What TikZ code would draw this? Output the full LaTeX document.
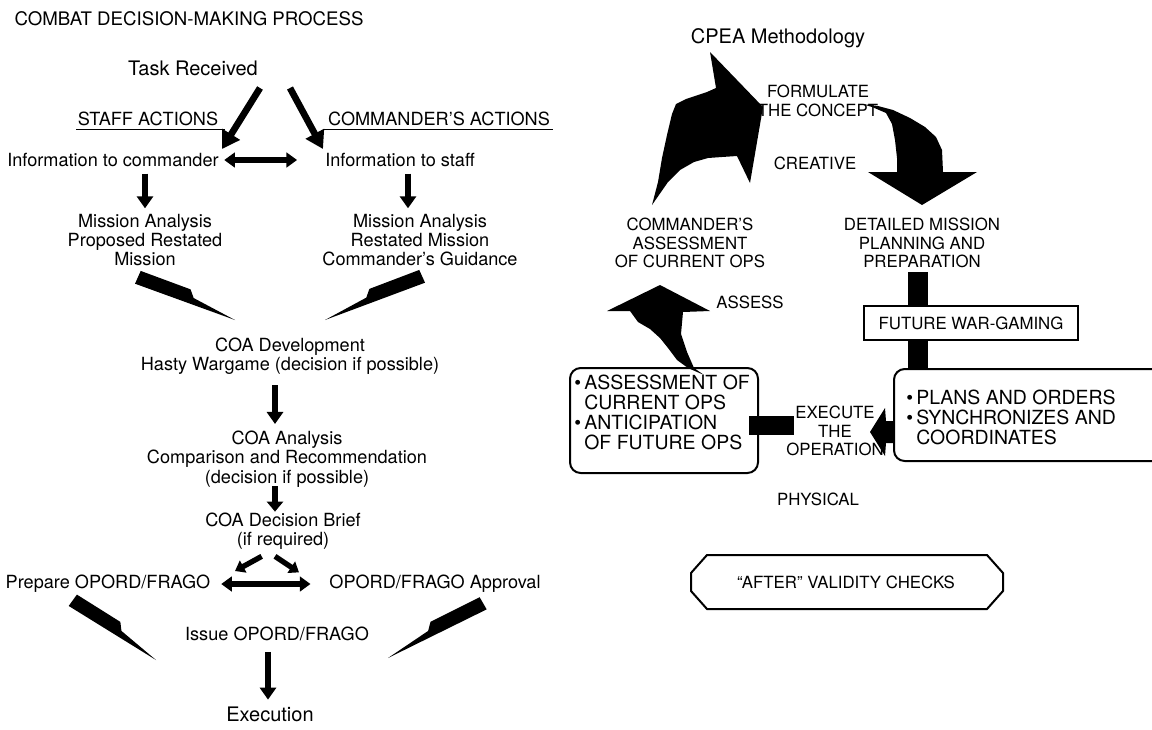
\documentclass[tikz,border=0pt]{standalone}
\usepackage{fontspec}
\setmainfont{TeX Gyre Heros}
\usetikzlibrary{arrows.meta,calc}

\newcommand\bodyfont{\fontsize{13.6}{14.5}\selectfont}
\newcommand\capsfont{\fontsize{12.6}{14}\selectfont}
\newcommand\boxfont{\fontsize{14.6}{13.6}\selectfont}
\newcommand\headfont{\fontsize{15}{17}\selectfont}

% tapering "lightning" arrow from #1 (tail) to #2 (tip); #3 = side of the notch
\newcommand\boltarrow[3]{%
  \fill ($(#1)!5.5pt!-#3:(#2)$) -- (#2)
        -- ($(#1)!0.56!(#2)!2.5pt!#3:(#2)$)
        -- ($(#1)!0.50!(#2)!7.5pt!#3:(#2)$)
        -- ($(#1)!5pt!#3:(#2)$) -- cycle;}

\begin{document}
\begin{tikzpicture}[x=0.75pt,y=-0.75pt,
  txt/.style={font=\bodyfont, align=center, inner sep=0pt},
  caps/.style={font=\capsfont, align=center, inner sep=0pt},
  head/.style={font=\headfont, inner sep=0pt},
  fat/.style={line width=4.5pt, -{Triangle[length=9pt,width=12pt]}},
  bigfat/.style={line width=5pt, -{Triangle[length=13pt,width=15pt]}},
  small/.style={line width=4pt, -{Triangle[length=7pt,width=10pt]}},
  dbl/.style={line width=4.5pt, {Triangle[length=8pt,width=11pt]}-{Triangle[length=8pt,width=11pt]}},
  uline/.style={line width=1.1pt},
  framebox/.style={draw, line width=1.5pt, rounded corners=8pt},
]
\useasboundingbox (0,0) rectangle (1152,729);
\clip (0,0) rectangle (1152,729);

% ---------------- combat decision-making process ----------------
\node[head, font=\fontsize{14}{16}\selectfont] (title) at (189,19) {COMBAT DECISION-MAKING PROCESS};
\node[head] (task) at (193,68) {Task Received};

\node[txt] (staffact) at (148,119) {STAFF ACTIONS};
\node[txt] (cmdact) at (439,119) {COMMANDER'S ACTIONS};
\draw[uline] ([xshift=-1pt,yshift=-3pt]staffact.base west) -- ([xshift=5pt,yshift=-3pt]staffact.base east);
\draw[uline] ([xshift=-3pt,yshift=-3pt]cmdact.base west) -- ([xshift=2pt,yshift=-3pt]cmdact.base east);

\node[txt] (infocmd) at (113,160) {Information to commander};
\node[txt] (infostaff) at (400,160) {Information to staff};

\node[txt] (ma1) at (145,240) {Mission Analysis\\Proposed Restated\\Mission};
\node[txt] (ma2) at (420,240) {Mission Analysis\\Restated Mission\\Commander's Guidance};

\node[txt] (coadev) at (290,356) {COA Development\\Hasty Wargame (decision if possible)};
\node[txt] (coaana) at (287,459) {COA Analysis\\Comparison and Recommendation\\(decision if possible)};
\node[txt] (brief) at (283,531) {COA Decision Brief\\(if required)};
\node[txt] (prep) at (108,584) {Prepare OPORD/FRAGO};
\node[txt] (approval) at (435,584) {OPORD/FRAGO Approval};
\node[txt] (issue) at (277,634) {Issue OPORD/FRAGO};
\node[head] (exec) at (270,714) {Execution};

% arrow end points
\coordinate (a1s) at (260,88);  \coordinate (a1e) at (222,149);
\coordinate (a2s) at (290,88);  \coordinate (a2e) at (323,149);
\coordinate (b1s) at (138,277); \coordinate (b1e) at (235,320);
\coordinate (b2s) at (422,276); \coordinate (b2e) at (325,320);
\coordinate (b3s) at (73,600);  \coordinate (b3e) at (156,660);
\coordinate (b4s) at (483,603); \coordinate (b4e) at (388,658);

\draw[bigfat] (a1s) -- (a1e);
\draw[bigfat] (a2s) -- (a2e);
\draw[dbl] ([xshift=4pt]infocmd.east) -- ([xshift=-21pt]infostaff.west);
\draw[fat] ([yshift=-5pt]infocmd.south -| ma1) -- ([yshift=4pt]ma1.north);
\draw[fat] ([yshift=-5pt]infostaff.south -| 408,0) -- ([yshift=4pt]ma2.north -| 408,0);
\boltarrow{b1s}{b1e}{90}
\boltarrow{b2s}{b2e}{-90}
\draw[fat] ([yshift=-8pt]coadev.south -| 275,0) -- ([yshift=5pt]coaana.north -| 275,0);
\draw[line width=4.5pt, -{Triangle[length=7.5pt,width=12pt]}] ([yshift=1pt]coaana.south -| 275,0) -- ([yshift=0.5pt]brief.north -| 275,0);
\draw[small] ([xshift=-16pt,yshift=-5pt]brief.south) -- ([xshift=-36pt,yshift=-16pt]brief.south);
\draw[small] ([xshift=-6pt,yshift=-5pt]brief.south) -- ([xshift=12pt,yshift=-17pt]brief.south);
\draw[dbl] ([xshift=8pt]prep.east) -- ([xshift=-14pt]approval.west);
\boltarrow{b3s}{b3e}{90}
\boltarrow{b4s}{b4e}{-90}
\draw[fat] ([yshift=-8pt]issue.south -| 268,0) -- ([yshift=5pt]exec.north -| 268,0);

% ---------------- CPEA methodology ----------------
\node[head] (cpea) at (778,38) {CPEA Methodology};
\node[caps] (formulate) at (818,101) {FORMULATE\\THE CONCEPT};
\node[caps] (creative) at (815,163) {CREATIVE};
\node[caps] (cmdassess) at (690,243) {COMMANDER'S\\ASSESSMENT\\OF CURRENT OPS};
\node[caps] (detailed) at (922,243) {DETAILED MISSION\\PLANNING AND\\PREPARATION};
\node[caps] (assess) at (750,302) {ASSESS};

% curved arrow rising into the concept
\fill (652,205) -- (658,182) -- (662,158) -- (667,135) -- (672,114) -- (676,104)
  -- (686,99) -- (698,95) -- (707,92) -- (716,88) -- (710,52) -- (763,107)
  -- (750,183) -- (737,156) -- (722,157) -- (708,158) -- (694,162) -- (680,170)
  -- (668,182) -- cycle;
% curved arrow falling into detailed planning
\fill (862,104) -- (878,106) -- (893,110) -- (910,118) -- (925,127) -- (936,137)
  -- (942,150) -- (943,172) -- (977,172) -- (922,205) -- (868,172) -- (897,172)
  -- (897,158) -- (895,140) -- (892,124) -- (886,113) -- (872,107) -- cycle;

% planning bar and war-gaming box
\fill (908,272) rectangle (928,368);
\node[draw, fill=white, line width=1.5pt, minimum width=160.5pt, minimum height=25.5pt, inner sep=0pt, font=\capsfont] (fwg) at (971,323) {FUTURE WAR-GAMING};

% right frame: plans and orders
\node[framebox, minimum width=207pt, minimum height=69pt, anchor=north west] (rbox) at (893,368) {};
\node[inner sep=0pt, font=\boxfont, anchor=west] (rtext) at (906,420) {%
  \begin{tabular}{@{}l@{\,}l@{}}\textbullet & PLANS AND ORDERS\\ \textbullet & SYNCHRONIZES AND\\ & COORDINATES\end{tabular}};

% left frame: assessment
\node[framebox, minimum width=141pt, minimum height=78.75pt, anchor=north west] (lbox) at (569,367) {};
\node[inner sep=0pt, font=\boxfont, anchor=west] (ltext) at (574,415) {%
  \begin{tabular}{@{}l@{\,}l@{}}\textbullet & ASSESSMENT OF\\ & CURRENT OPS\\ \textbullet & ANTICIPATION\\ & OF FUTURE OPS\end{tabular}};

% assess arrow rising from the left frame
\fill (704,375) -- (694,368) -- (687,352) -- (681,334) -- (683,312) -- (710,311)
  -- (660,285) -- (607,311) -- (630,311) -- (638,322) -- (650,329) -- (660,338)
  -- (668,348) -- (677,360) -- (688,368) -- cycle;

\node[caps] (execute) at (835,431) {EXECUTE\\THE\\OPERATION};
\fill (749,416) rectangle (794,435);
\fill (870,432) -- (885,408) -- (886,421) -- (rbox.west |- 0,421) -- (rbox.west |- 0,443) -- (886,443) -- (885,456) -- cycle;

\node[caps] (physical) at (818,499) {PHYSICAL};

% validity check plate
\node[font=\capsfont, inner sep=0pt] (after) at (846,582) {``AFTER'' VALIDITY CHECKS};
\draw[line width=1.5pt] (707,555) -- (987,555) -- (1003,573) -- (1003,591) -- (987,609)
  -- (707,609) -- (691,591) -- (691,573) -- cycle;

\end{tikzpicture}
\end{document}
